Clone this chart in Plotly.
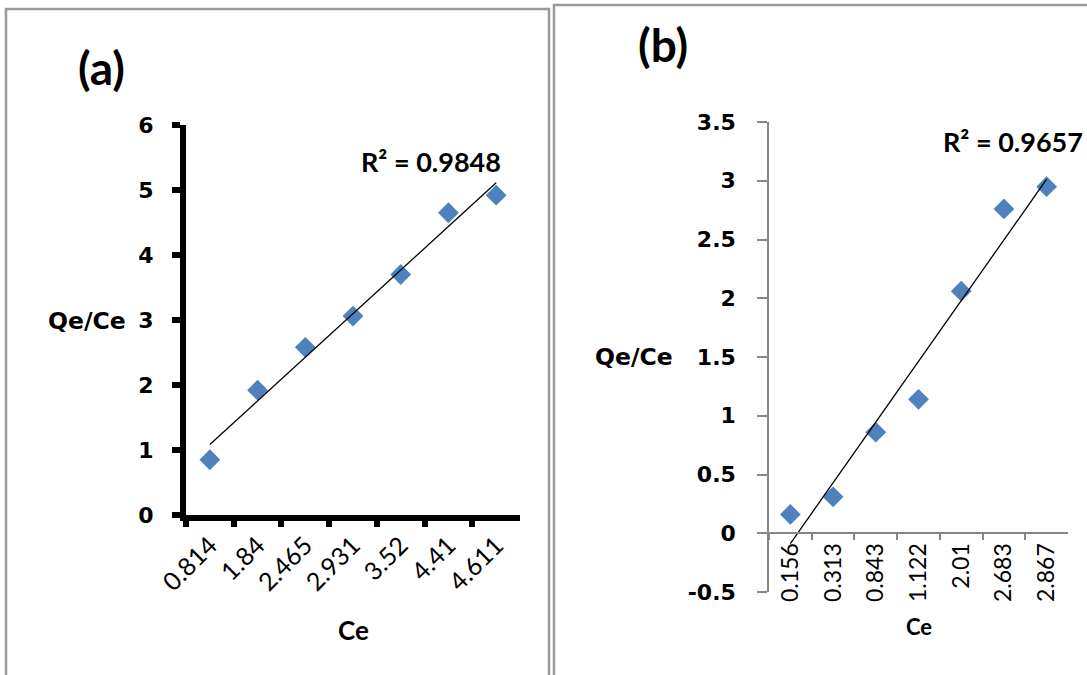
import numpy as np
import plotly.graph_objects as go

# ---------------- data ----------------
ce_a = ["0.814", "1.84", "2.465", "2.931", "3.52", "4.41", "4.611"]
qe_ce_a = [0.85, 1.92, 2.58, 3.06, 3.70, 4.65, 4.92]
r2_a = "R² = 0.9848"

ce_b = ["0.156", "0.313", "0.843", "1.122", "2.01", "2.683", "2.867"]
qe_ce_b = [0.16, 0.31, 0.86, 1.14, 2.06, 2.76, 2.95]
r2_b = "R² = 0.9657"

yticks_b = [-0.5, 0, 0.5, 1, 1.5, 2, 2.5, 3, 3.5]
yticktext_b = ["-0.5", "0", "0.5", "1", "1.5", "2", "2.5", "3", "3.5"]

W, H = 1087, 675


def px(x):
    return x / W


def py(y):
    return 1 - y / H


def trend(cats, vals):
    idx = np.arange(1, len(vals) + 1)
    slope, inter = np.polyfit(idx, vals, 1)
    return [cats[0], cats[-1]], [slope * idx[0] + inter, slope * idx[-1] + inter]


BLUE = "#4F81BD"
GRAY = "#868686"
BOLD_FONT = "DejaVu Sans"
LABEL_FONT = "Lato"

fig = go.Figure()

# panel (a)
fig.add_trace(go.Scatter(x=ce_a, y=qe_ce_a, mode="markers", xaxis="x", yaxis="y",
                         marker=dict(symbol="diamond", size=16, color=BLUE),
                         showlegend=False))
tx, ty = trend(ce_a, qe_ce_a)
fig.add_trace(go.Scatter(x=tx, y=ty, mode="lines", xaxis="x", yaxis="y",
                         line=dict(color="black", width=1.3), showlegend=False))

# panel (b)
fig.add_trace(go.Scatter(x=ce_b, y=qe_ce_b, mode="markers", xaxis="x2", yaxis="y2",
                         marker=dict(symbol="diamond", size=16, color=BLUE),
                         showlegend=False))
tx, ty = trend(ce_b, qe_ce_b)
fig.add_trace(go.Scatter(x=tx, y=ty, mode="lines", xaxis="x2", yaxis="y2",
                         line=dict(color="black", width=1.3), showlegend=False))

ydom_b = [py(592), py(122)]
yr_b = [-0.5, 3.5]
xpos_b = ydom_b[0] + (0 - yr_b[0]) / (yr_b[1] - yr_b[0]) * (ydom_b[1] - ydom_b[0])

fig.update_layout(
    width=W, height=H, autosize=False,
    margin=dict(l=0, r=0, t=0, b=0, pad=0, autoexpand=False),
    paper_bgcolor="white", plot_bgcolor="white",
    xaxis=dict(domain=[px(186), px(520)], anchor="y", type="category",
               categoryorder="array", categoryarray=ce_a, automargin=False,
               range=[-0.5, 6.5], tickson="boundaries", ticks="outside",
               ticklen=6, tickwidth=6, tickcolor="black",
               showline=True, linewidth=6, linecolor="black",
               showgrid=False, zeroline=False, tickangle=-45,
               tickfont=dict(family=LABEL_FONT, size=25, color="black")),
    yaxis=dict(domain=[py(515), py(125)], anchor="x", range=[0, 6], dtick=1,
               automargin=False,
               ticks="outside", ticklen=8, tickwidth=6, tickcolor="black",
               showline=True, linewidth=6, linecolor="black",
               showgrid=False, zeroline=False, ticklabelstandoff=14,
               tickfont=dict(family=BOLD_FONT, size=22, color="black", weight="bold")),
    xaxis2=dict(domain=[px(769), px(1068)], anchor="free", position=xpos_b,
                type="category", categoryorder="array", categoryarray=ce_b,
                automargin=False,
                range=[-0.5, 6.5], tickson="boundaries", ticks="outside",
                ticklen=6, tickwidth=1.5, tickcolor=GRAY,
                showline=True, linewidth=1.5, linecolor=GRAY,
                showgrid=False, zeroline=False, tickangle=-90,
                tickfont=dict(family=LABEL_FONT, size=23, color="black")),
    yaxis2=dict(domain=ydom_b, anchor="x2", range=yr_b, automargin=False,
                tickvals=yticks_b, ticktext=yticktext_b,
                ticks="outside", ticklen=10, tickwidth=1.5, tickcolor=GRAY,
                showline=True, linewidth=1.5, linecolor=GRAY,
                showgrid=False, zeroline=False, ticklabelstandoff=17,
                tickfont=dict(family=BOLD_FONT, size=22, color="black", weight="bold")),
)

# frames
fig.add_shape(type="rect", xref="paper", yref="paper",
              x0=px(6), x1=px(549), y0=py(700), y1=py(9),
              line=dict(color="#9a9a9a", width=2.5), fillcolor="rgba(0,0,0,0)", layer="below")
fig.add_shape(type="rect", xref="paper", yref="paper",
              x0=px(554), x1=px(1110), y0=py(700), y1=py(5),
              line=dict(color="#9a9a9a", width=2.5), fillcolor="rgba(0,0,0,0)", layer="below")


def ann(text, x, y, family, size, bold=True, xanchor="center"):
    fig.add_annotation(text=text, xref="paper", yref="paper", x=px(x), y=py(y),
                       xanchor=xanchor, yanchor="middle", showarrow=False,
                       font=dict(family=family, size=size, color="black",
                                 weight="bold" if bold else "normal"))


ann("(a)", 101, 67, LABEL_FONT, 46)
ann("(b)", 663, 44, LABEL_FONT, 46)
ann(r2_a, 431, 161, LABEL_FONT, 27)
ann(r2_b, 941, 141, LABEL_FONT, 27, xanchor="left")
ann("Qe/Ce", 87, 321, BOLD_FONT, 23.5)
ann("Qe/Ce", 634, 357, BOLD_FONT, 23.5)
ann("Ce", 353, 630, LABEL_FONT, 26)
ann("Ce", 919, 626, LABEL_FONT, 22)

fig.write_html("out.html", config={"displayModeBar": False},
               post_script="document.body.style.margin='0';document.body.style.overflow='hidden';")
